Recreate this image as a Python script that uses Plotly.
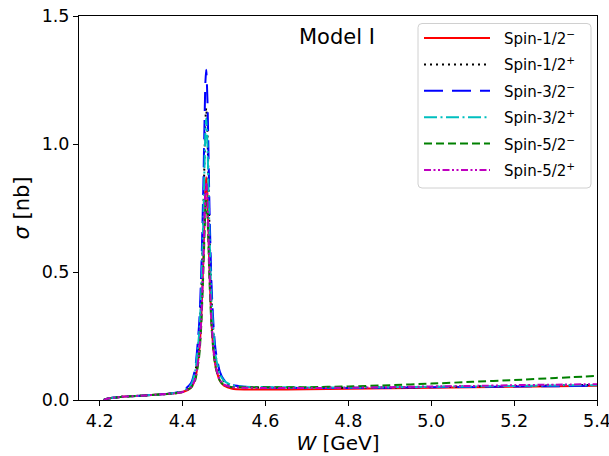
import plotly.graph_objects as go

# Energy grid W [GeV]
W = [4.21, 4.22, 4.25, 4.30, 4.35, 4.38, 4.40, 4.42, 4.43, 4.44, 4.445, 4.45, 4.455, 4.457,
     4.46, 4.465, 4.47, 4.475, 4.48, 4.49, 4.50, 4.52, 4.55, 4.60, 4.70, 4.80, 4.90, 5.00,
     5.10, 5.20, 5.30, 5.40]

# Cross sections sigma [nb]
spin12m = [0, 0.006, 0.012, 0.017, 0.022, 0.026, 0.031, 0.048, 0.08, 0.19, 0.32, 0.55, 0.83, 0.87,
           0.80, 0.50, 0.30, 0.19, 0.13, 0.075, 0.056, 0.044, 0.041, 0.041, 0.042, 0.044, 0.046, 0.048,
           0.050, 0.052, 0.054, 0.056]
spin12p = [0, 0.006, 0.012, 0.017, 0.022, 0.026, 0.032, 0.055, 0.10, 0.25, 0.42, 0.72, 1.09, 1.14,
           1.04, 0.66, 0.39, 0.25, 0.17, 0.10, 0.072, 0.055, 0.050, 0.048, 0.047, 0.048, 0.049, 0.051,
           0.053, 0.055, 0.057, 0.059]
spin32m = [0, 0.006, 0.012, 0.017, 0.022, 0.027, 0.035, 0.065, 0.12, 0.30, 0.50, 0.83, 1.24, 1.29,
           1.17, 0.74, 0.44, 0.28, 0.19, 0.11, 0.078, 0.058, 0.052, 0.049, 0.047, 0.047, 0.048, 0.050,
           0.051, 0.053, 0.054, 0.056]
spin32p = [0, 0.006, 0.012, 0.017, 0.022, 0.027, 0.033, 0.058, 0.11, 0.26, 0.42, 0.70, 1.05, 1.10,
           1.00, 0.64, 0.38, 0.25, 0.17, 0.10, 0.075, 0.057, 0.052, 0.050, 0.049, 0.049, 0.050, 0.052,
           0.053, 0.055, 0.057, 0.058]
spin52m = [0, 0.006, 0.012, 0.017, 0.022, 0.026, 0.031, 0.048, 0.075, 0.17, 0.29, 0.50, 0.74, 0.78,
           0.72, 0.46, 0.28, 0.18, 0.125, 0.075, 0.058, 0.050, 0.050, 0.050, 0.050, 0.053, 0.058, 0.064,
           0.071, 0.078, 0.086, 0.094]
spin52p = [0, 0.006, 0.012, 0.017, 0.022, 0.026, 0.031, 0.050, 0.08, 0.19, 0.31, 0.54, 0.81, 0.85,
           0.78, 0.50, 0.30, 0.19, 0.13, 0.078, 0.060, 0.050, 0.048, 0.047, 0.047, 0.048, 0.050, 0.053,
           0.055, 0.058, 0.060, 0.062]

names = ["Spin-1/2<sup>−</sup>", "Spin-1/2<sup>+</sup>", "Spin-3/2<sup>−</sup>",
         "Spin-3/2<sup>+</sup>", "Spin-5/2<sup>−</sup>", "Spin-5/2<sup>+</sup>"]
series = [spin12m, spin12p, spin32m, spin32p, spin52m, spin52p]
colors = ["#ff0000", "#000000", "#0000ff", "#00bfbf", "#008000", "#bf00bf"]
dashes = ["solid", "2px,4px", "19px,9px", "13px,3.5px,2px,3.5px", "8px,4px",
          "7px,2.5px,2px,2.5px,2px,2.5px"]

# layout geometry (pixels)
FW, FH = 609, 456
L, R, T, B = 79, 12, 16, 56
PW, PH = FW - L - R, FH - T - B


def px(xp):
    return (xp - L) / PW


def py(yp):
    return (FH - B - yp) / PH


fig = go.Figure()
for n, s, c, d in zip(names, series, colors, dashes):
    fig.add_trace(go.Scatter(x=W, y=s, mode="lines", name=n, showlegend=False, hoverinfo="skip",
                             line=dict(color=c, dash=d, width=2, shape="spline", smoothing=0.6)))

# legend drawn manually (matplotlib-like)
bx0, bx1, by0, by1, rad = 418, 591, 23.5, 188, 4
path = (f"M{px(bx0 + rad)},{py(by0)} L{px(bx1 - rad)},{py(by0)} "
        f"Q{px(bx1)},{py(by0)} {px(bx1)},{py(by0 + rad)} "
        f"L{px(bx1)},{py(by1 - rad)} Q{px(bx1)},{py(by1)} {px(bx1 - rad)},{py(by1)} "
        f"L{px(bx0 + rad)},{py(by1)} Q{px(bx0)},{py(by1)} {px(bx0)},{py(by1 - rad)} "
        f"L{px(bx0)},{py(by0 + rad)} Q{px(bx0)},{py(by0)} {px(bx0 + rad)},{py(by0)} Z")
shapes = [dict(type="path", path=path, xref="paper", yref="paper",
               line=dict(color="#d0d0d0", width=1), fillcolor="rgba(255,255,255,0.8)", layer="above")]
annotations = [dict(text="Model I", x=px(337), y=py(37), xref="paper", yref="paper",
                    showarrow=False, font=dict(size=21), xanchor="center", yanchor="middle")]
row0, dy = 38, 26.4
for i, (n, c, d) in enumerate(zip(names, colors, dashes)):
    yy = py(row0 + i * dy)
    shapes.append(dict(type="line", xref="paper", yref="paper", x0=px(424), x1=px(490), y0=yy, y1=yy,
                       line=dict(color=c, dash=d, width=2), layer="above"))
    annotations.append(dict(text=n, x=px(502), y=yy, xref="paper", yref="paper", showarrow=False,
                            xanchor="left", yanchor="middle", font=dict(size=15)))

fig.update_layout(
    width=FW, height=FH,
    margin=dict(l=L, r=R, t=T, b=B),
    paper_bgcolor="white", plot_bgcolor="white",
    font=dict(family="DejaVu Sans", color="black", size=17.5),
    showlegend=False,
    shapes=shapes,
    annotations=annotations,
)
fig.update_xaxes(range=[4.15, 5.4], tickvals=[4.2, 4.4, 4.6, 4.8, 5.0, 5.2, 5.4],
                 ticktext=["4.2", "4.4", "4.6", "4.8", "5.0", "5.2", "5.4"], automargin=False,
                 ticklabeloverflow="allow",
                 showline=True, linecolor="black", linewidth=1, mirror=True,
                 ticks="outside", ticklen=5, tickcolor="black", showgrid=False, zeroline=False,
                 title=dict(text="<i>W</i> [GeV]", font=dict(size=20), standoff=4))
fig.update_yaxes(range=[0, 1.5], tickvals=[0, 0.5, 1.0, 1.5],
                 ticktext=["0.0", "0.5", "1.0", "1.5"], automargin=False,
                 showline=True, linecolor="black", linewidth=1, mirror=True,
                 ticks="outside", ticklen=5, tickcolor="black", showgrid=False, zeroline=False,
                 title=dict(text="<i>σ</i> [nb]", font=dict(size=21), standoff=6))

fig.write_html("out.html", config={"displayModeBar": False},
               post_script="document.body.style.margin='0';document.body.style.overflow='hidden';")
